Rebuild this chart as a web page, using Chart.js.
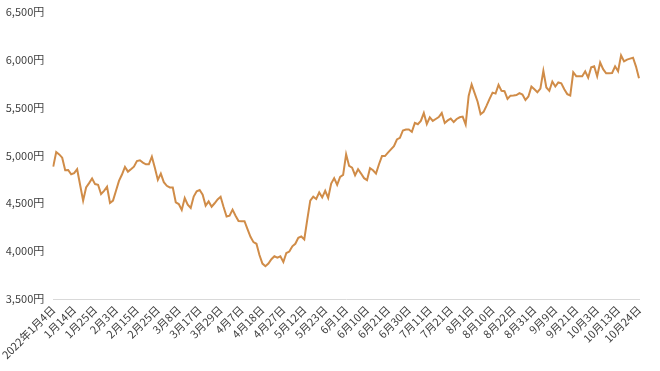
<!DOCTYPE html>
<html>
<head>
<meta charset="utf-8">
<script src="https://cdn.jsdelivr.net/npm/chart.js@4/dist/chart.umd.min.js"></script>
<style>
  html, body { margin: 0; padding: 0; background: #ffffff; }
  #wrap { width: 660px; height: 371px; position: relative; }
</style>
</head>
<body>
<div id="wrap"><canvas id="c" width="660" height="371"></canvas></div>
<script>
// Trading days (2022)
const categories = [
  "2022年1月4日","1月5日","1月6日","1月7日","1月11日","1月12日","1月13日","1月14日","1月17日","1月18日","1月19日","1月20日","1月21日","1月24日","1月25日","1月26日","1月27日","1月28日","1月31日",
  "2月1日","2月2日","2月3日","2月4日","2月7日","2月8日","2月9日","2月10日","2月14日","2月15日","2月16日","2月17日","2月18日","2月21日","2月22日","2月24日","2月25日","2月28日",
  "3月1日","3月2日","3月3日","3月4日","3月7日","3月8日","3月9日","3月10日","3月11日","3月14日","3月15日","3月16日","3月17日","3月18日","3月22日","3月23日","3月24日","3月25日","3月28日","3月29日","3月30日","3月31日",
  "4月1日","4月4日","4月5日","4月6日","4月7日","4月8日","4月11日","4月12日","4月13日","4月14日","4月15日","4月18日","4月19日","4月20日","4月21日","4月22日","4月25日","4月26日","4月27日","4月28日",
  "5月2日","5月6日","5月9日","5月10日","5月11日","5月12日","5月13日","5月16日","5月17日","5月18日","5月19日","5月20日","5月23日","5月24日","5月25日","5月26日","5月27日","5月30日","5月31日",
  "6月1日","6月2日","6月3日","6月6日","6月7日","6月8日","6月9日","6月10日","6月13日","6月14日","6月15日","6月16日","6月17日","6月20日","6月21日","6月22日","6月23日","6月24日","6月27日","6月28日","6月29日","6月30日",
  "7月1日","7月4日","7月5日","7月6日","7月7日","7月8日","7月11日","7月12日","7月13日","7月14日","7月15日","7月19日","7月20日","7月21日","7月22日","7月25日","7月26日","7月27日","7月28日","7月29日",
  "8月1日","8月2日","8月3日","8月4日","8月5日","8月8日","8月9日","8月10日","8月12日","8月15日","8月16日","8月17日","8月18日","8月19日","8月22日","8月23日","8月24日","8月25日","8月26日","8月29日","8月30日","8月31日",
  "9月1日","9月2日","9月5日","9月6日","9月7日","9月8日","9月9日","9月12日","9月13日","9月14日","9月15日","9月16日","9月20日","9月21日","9月22日","9月26日","9月27日","9月28日","9月29日","9月30日",
  "10月3日","10月4日","10月5日","10月6日","10月7日","10月11日","10月12日","10月13日","10月14日","10月17日","10月18日","10月19日","10月20日","10月21日","10月24日"
];

// Closing price (円)
const prices = [
  4882,5035,5010,4976,4845,4848,4803,4814,4855,4690,
  4527,4665,4710,4758,4700,4693,4596,4630,4672,4503,
  4527,4630,4734,4800,4879,4830,4855,4882,4940,4949,
  4925,4907,4907,4986,4870,4744,4810,4720,4682,4665,
  4665,4510,4492,4430,4555,4485,4451,4570,4625,4638,
  4590,4475,4519,4464,4500,4540,4568,4460,4361,4371,
  4433,4370,4315,4312,4312,4230,4150,4094,4077,3960,
  3870,3842,3870,3915,3946,3932,3946,3887,3980,3995,
  4050,4077,4140,4153,4122,4330,4527,4568,4544,4613,
  4561,4630,4555,4706,4762,4693,4776,4796,5011,4890,
  4872,4793,4855,4810,4762,4741,4866,4845,4810,4907,
  4993,4993,5028,5063,5097,5166,5183,5260,5270,5270,
  5245,5340,5325,5360,5442,5328,5398,5360,5380,5400,
  5442,5338,5365,5384,5348,5380,5398,5405,5322,5620,
  5740,5650,5560,5430,5455,5520,5590,5655,5645,5737,
  5674,5670,5590,5624,5625,5630,5650,5635,5578,5615,
  5719,5690,5660,5697,5882,5709,5674,5771,5719,5761,
  5753,5690,5640,5626,5868,5827,5827,5827,5878,5812,
  5920,5930,5826,5970,5900,5857,5857,5860,5930,5878,
  6045,5982,6000,6010,6020,5927,5805
];

const yTicks = [3500, 4000, 4500, 5000, 5500, 6000, 6500];
const labelEvery = 7;

const FONT = "'Noto Sans CJK JP', 'Noto Sans', sans-serif";

new Chart(document.getElementById('c'), {
  type: 'line',
  data: {
    labels: categories,
    datasets: [{
      data: prices,
      borderColor: '#d08c48',
      borderWidth: 2,
      pointRadius: 0,
      pointHoverRadius: 0,
      tension: 0,
      fill: false
    }]
  },
  options: {
    responsive: false,
    animation: false,
    events: [],
    layout: { padding: { left: 4, right: 21, top: 0, bottom: 0 } },
    plugins: { legend: { display: false }, tooltip: { enabled: false } },
    scales: {
      x: {
        type: 'category',
        offset: false,
        grid: { display: false, drawTicks: false },
        border: { display: true, color: '#d9d9d9', width: 1 },
        ticks: {
          autoSkip: false,
          maxRotation: 45,
          minRotation: 45,
          padding: 4,
          color: '#404040',
          font: { family: FONT, size: 11 },
          callback: function(v, i) { return i % labelEvery === 0 ? categories[i] : null; }
        },
        afterFit: function(s) { s.height = 72; }
      },
      y: {
        min: yTicks[0],
        max: yTicks[yTicks.length - 1],
        afterBuildTicks: function(s) { s.ticks = yTicks.map(v => ({ value: v })); },
        grid: { display: false, drawTicks: false },
        border: { display: false },
        ticks: {
          padding: 9,
          color: '#404040',
          font: { family: FONT, size: 11, lineHeight: 0.5 },
          callback: function(v) { return v.toLocaleString('en-US') + '円'; }
        },
        afterFit: function(s) { s.width = 49; }
      }
    }
  }
});
</script>
</body>
</html>
